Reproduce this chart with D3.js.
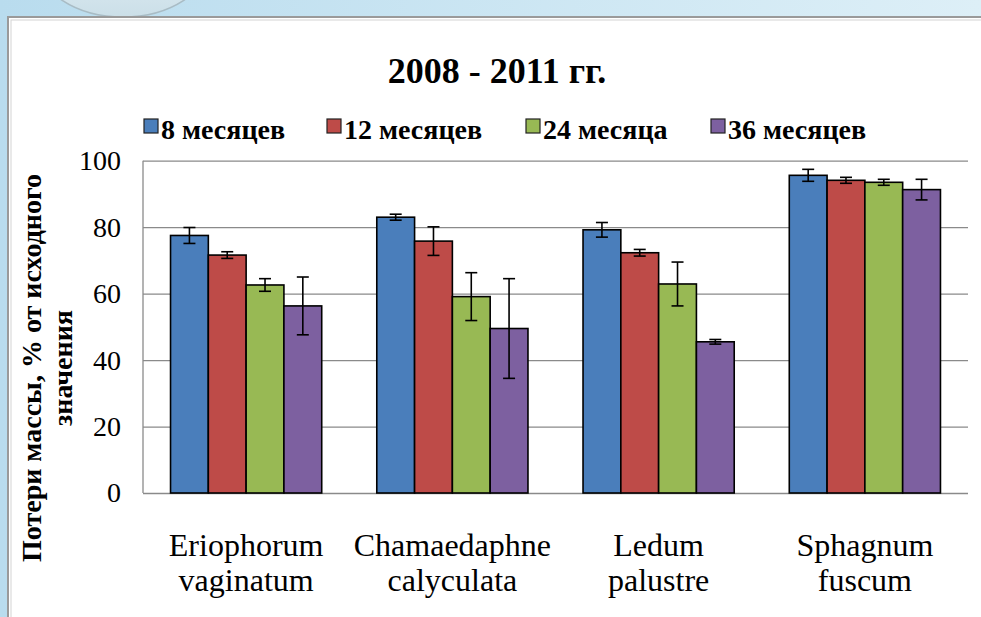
<!DOCTYPE html>
<html>
<head>
<meta charset="utf-8">
<script src="https://cdn.jsdelivr.net/npm/d3@7"></script>
<style>
  html, body { margin: 0; padding: 0; }
  body { width: 981px; height: 617px; overflow: hidden; }
  svg text { font-family: "Liberation Serif", "Tinos", "Times New Roman", "DejaVu Serif", serif; fill: #000; }
</style>
</head>
<body>
<div id="chart-area"></div>
<script>
const categories = [
  ["Eriophorum", "vaginatum"],
  ["Chamaedaphne", "calyculata"],
  ["Ledum", "palustre"],
  ["Sphagnum", "fuscum"]
];
const seriesNames = ["8 месяцев", "12 месяцев", "24 месяца", "36 месяцев"];
const months8 = [77.5, 83.0, 79.2, 95.6];
const months8Err = [2.4, 0.9, 2.2, 1.8];
const months12 = [71.6, 75.8, 72.3, 94.1];
const months12Err = [1.0, 4.3, 1.0, 0.9];
const months24 = [62.6, 59.1, 62.9, 93.5];
const months24Err = [1.9, 7.2, 6.6, 0.9];
const months36 = [56.3, 49.5, 45.5, 91.3];
const months36Err = [8.7, 15.0, 0.7, 3.1];
const yTicks = [0, 20, 40, 60, 80, 100];
const title = "2008 - 2011 гг.";
const yTitle = ["Потери массы, % от исходного", "значения"];

const colors = ["#4a7ebb", "#be4b48", "#98b954", "#7d60a0"];
const serif = "'Liberation Serif', 'Tinos', 'Times New Roman', 'DejaVu Serif', serif";

const drawChart = () => {
  const size = { width: 981, height: 617 };
  const plot = { left: 143, right: 968, top: 160.7, bottom: 493 };

  const series = [
    { name: seriesNames[0], values: months8, errs: months8Err },
    { name: seriesNames[1], values: months12, errs: months12Err },
    { name: seriesNames[2], values: months24, errs: months24Err },
    { name: seriesNames[3], values: months36, errs: months36Err }
  ];

  const rows = [];
  categories.forEach((c, i) => {
    series.forEach((s, j) => {
      rows.push({ cat: c[0], series: s.name, idx: j, value: s.values[i], err: s.errs[i] });
    });
  });

  const svg = d3.select("#chart-area")
    .append("svg")
    .attr("width", size.width)
    .attr("height", size.height)
    .style("font-family", serif);

  // background
  const defs = svg.append("defs");
  const bg = defs.append("linearGradient").attr("id", "bg").attr("x1", 0).attr("x2", 1).attr("y1", 0).attr("y2", 0);
  bg.append("stop").attr("offset", "0%").attr("stop-color", "#b9dcee");
  bg.append("stop").attr("offset", "100%").attr("stop-color", "#ddeff7");
  const bubble = defs.append("linearGradient").attr("id", "bubble").attr("x1", 0).attr("x2", 0).attr("y1", 0).attr("y2", 1);
  bubble.append("stop").attr("offset", "0%").attr("stop-color", "#f4fafd");
  bubble.append("stop").attr("offset", "100%").attr("stop-color", "#cbdfe8");

  svg.append("rect").attr("width", size.width).attr("height", size.height).attr("fill", "url(#bg)");
  svg.append("ellipse")
    .attr("cx", 123).attr("cy", -40).attr("rx", 86).attr("ry", 57)
    .attr("fill", "url(#bubble)").attr("stroke", "#a9bcc5").attr("stroke-width", 1.5);

  svg.append("rect")
    .attr("x", 8).attr("y", 17).attr("width", size.width).attr("height", size.height)
    .attr("fill", "#fff").attr("stroke", "#9a9a9a").attr("stroke-width", 2);
  svg.append("rect")
    .attr("x", 11).attr("y", 20).attr("width", size.width).attr("height", size.height)
    .attr("fill", "none").attr("stroke", "#d4d4d4").attr("stroke-width", 1);

  const x = d3.scaleBand()
    .domain(categories.map(c => c[0]))
    .range([plot.left, plot.right])
    .paddingInner(0.267)
    .paddingOuter(0.1335);

  const xs = d3.scaleBand()
    .domain(seriesNames)
    .range([0, x.bandwidth()]);

  const y = d3.scaleLinear()
    .domain([0, 100])
    .range([plot.bottom, plot.top]);

  // gridlines
  const g = svg.append("g");
  g.append("g")
    .attr("class", "grid")
    .attr("transform", `translate(${plot.left}, 0)`)
    .call(d3.axisLeft(y).tickValues(yTicks).tickSize(-(plot.right - plot.left)).tickFormat(""))
    .call(a => a.select(".domain").remove())
    .call(a => a.selectAll("line").attr("stroke", "#8a8a8a").attr("stroke-width", 1.3));

  g.append("line")
    .attr("x1", plot.left).attr("x2", plot.left)
    .attr("y1", plot.top).attr("y2", plot.bottom)
    .attr("stroke", "#8a8a8a").attr("stroke-width", 1.3);

  // y tick labels
  g.append("g")
    .attr("class", "y-axis")
    .attr("transform", `translate(${plot.left}, 0)`)
    .call(d3.axisLeft(y).tickValues(yTicks).tickSize(0).tickPadding(22))
    .attr("font-family", serif)
    .call(a => a.select(".domain").remove())
    .call(a => a.selectAll("text")
      .attr("font-size", 28)
      .attr("fill", "#000"));

  // bars
  const bars = g.selectAll(".bar").data(rows).enter();
  bars.append("rect")
    .attr("x", d => x(d.cat) + xs(d.series))
    .attr("y", d => y(d.value))
    .attr("width", xs.bandwidth())
    .attr("height", d => y(0) - y(d.value))
    .attr("fill", d => colors[d.idx])
    .attr("stroke", "#000")
    .attr("stroke-width", 1.6);

  // error bars
  const cap = 6;
  const errG = g.selectAll(".err").data(rows).enter().append("g")
    .attr("transform", d => `translate(${x(d.cat) + xs(d.series) + xs.bandwidth() / 2}, 0)`)
    .attr("stroke", "#000").attr("stroke-width", 1.6);
  errG.append("line")
    .attr("y1", d => y(d.value + d.err)).attr("y2", d => y(d.value - d.err));
  errG.append("line").attr("x1", -cap).attr("x2", cap)
    .attr("y1", d => y(d.value + d.err)).attr("y2", d => y(d.value + d.err));
  errG.append("line").attr("x1", -cap).attr("x2", cap)
    .attr("y1", d => y(d.value - d.err)).attr("y2", d => y(d.value - d.err));

  // x labels
  const xl = g.selectAll(".xlab").data(categories).enter().append("text")
    .attr("text-anchor", "middle")
    .attr("font-size", 32)
    .attr("x", d => x(d[0]) + x.bandwidth() / 2)
    .attr("y", 556);
  xl.append("tspan").text(d => d[0]);
  xl.append("tspan")
    .attr("x", d => x(d[0]) + x.bandwidth() / 2)
    .attr("dy", 35)
    .text(d => d[1]);

  // title
  svg.append("text")
    .attr("x", 497).attr("y", 83)
    .attr("text-anchor", "middle")
    .attr("font-size", 36)
    .attr("font-weight", "bold")
    .text(title);

  // legend
  const legendX = [144, 327, 526, 711];
  const leg = svg.selectAll(".leg").data(seriesNames).enter().append("g")
    .attr("transform", (d, i) => `translate(${legendX[i]}, 0)`);
  leg.append("rect")
    .attr("x", 0).attr("y", 119).attr("width", 14).attr("height", 14)
    .attr("fill", (d, i) => colors[i])
    .attr("stroke", "#222").attr("stroke-width", 1.2);
  leg.append("text")
    .attr("x", 17).attr("y", 139)
    .attr("font-size", 28)
    .attr("font-weight", "bold")
    .text(d => d);

  // y title
  const yt = svg.append("g");
  yTitle.forEach((t, i) => {
    yt.append("text")
      .attr("transform", `translate(${i === 0 ? 41 : 72}, 368) rotate(-90)`)
      .attr("text-anchor", "middle")
      .attr("font-size", 28)
      .attr("font-weight", "bold")
      .text(t);
  });
};

window.onload = drawChart;
</script>
</body>
</html>
